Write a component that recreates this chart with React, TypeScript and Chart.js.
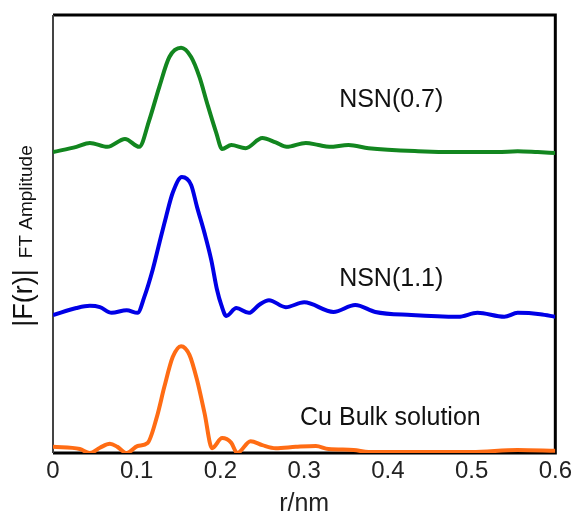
import React, { useEffect, useRef } from "react";
import { Chart, registerables } from "chart.js";

Chart.register(...registerables);

// x axis ticks
const xTickValues = [0, 0.1, 0.2, 0.3, 0.4, 0.5, 0.6];
const xTickLabels = ["0", "0.1", "0.2", "0.3", "0.4", "0.5", "0.6"];

// Series (r in nm, amplitude in stacked arbitrary units)
const nsn07R = [0, 0.028, 0.044, 0.065, 0.086, 0.103, 0.115, 0.127, 0.139, 0.153, 0.165, 0.175, 0.184, 0.195, 0.202, 0.213, 0.230, 0.250, 0.266, 0.279, 0.302, 0.317, 0.330, 0.353, 0.377, 0.436, 0.484, 0.531, 0.555, 0.579, 0.6];
const nsn07Y = [68.7, 69.9, 70.8, 69.9, 71.7, 69.9, 76.0, 83.6, 90.4, 92.5, 90.4, 85.8, 79.9, 73.1, 69.4, 70.3, 69.6, 71.9, 70.9, 69.9, 70.8, 70.3, 69.9, 70.3, 69.6, 68.9, 68.7, 68.7, 68.9, 68.7, 68.5];

const nsn11R = [0, 0.028, 0.044, 0.056, 0.070, 0.088, 0.101, 0.109, 0.119, 0.127, 0.135, 0.143, 0.154, 0.165, 0.172, 0.181, 0.189, 0.196, 0.201, 0.207, 0.219, 0.234, 0.246, 0.258, 0.278, 0.300, 0.335, 0.361, 0.385, 0.428, 0.484, 0.507, 0.539, 0.555, 0.582, 0.6];
const nsn11Y = [31.5, 33.1, 33.6, 33.3, 32.0, 32.6, 32.0, 35.6, 41.8, 47.9, 53.9, 59.4, 63.0, 61.2, 56.2, 50.2, 44.1, 37.2, 33.8, 31.3, 33.1, 32.0, 33.8, 34.9, 33.3, 34.4, 32.2, 33.8, 32.2, 31.5, 31.1, 32.0, 31.1, 32.0, 31.7, 31.1];

const cuBulkR = [0, 0.032, 0.044, 0.056, 0.068, 0.077, 0.088, 0.101, 0.113, 0.124, 0.133, 0.143, 0.153, 0.163, 0.172, 0.181, 0.190, 0.202, 0.213, 0.220, 0.236, 0.250, 0.266, 0.290, 0.314, 0.329, 0.359, 0.377, 0.430, 0.500, 0.555, 0.6];
const cuBulkY = [1.4, 0.9, 0, 1.2, 2.1, 1.4, 0, 1.6, 2.3, 8.2, 15.1, 21.9, 24.4, 22.4, 16.7, 9.1, 1.1, 3.4, 2.3, 0, 2.7, 1.8, 1.1, 1.4, 1.6, 0.9, 0.7, 0.2, 0.2, 0.2, 0.7, 0.5];

const seriesNames = ["NSN(0.7)", "NSN(1.1)", "Cu Bulk solution"];
const seriesColors = ["#12861f", "#0000e6", "#ff6c14"];
// curve label anchors (data coordinates)
const labelR = [0.404, 0.404, 0.403];
const labelY = [80.6, 39.7, 8.0];

const yTitleBig = "|F(r)|";
const yTitleSmall = "FT Amplitude";
const xTitle = "r/nm";

const FONT = '"Liberation Sans", Arial, sans-serif';

function toPoints(xs: number[], ys: number[]) {
  return xs.map((x, i) => ({ x, y: ys[i] }));
}

const framePlugin = {
  id: "frame",
  beforeDatasetsDraw(chart: any) {
    const { ctx, chartArea } = chart;
    const { left, right, top, bottom } = chartArea;
    ctx.save();
    ctx.strokeStyle = "#000";
    ctx.lineWidth = 3;
    ctx.beginPath();
    ctx.moveTo(left, top);
    ctx.lineTo(right, top);
    ctx.lineTo(right, bottom);
    ctx.lineTo(left, bottom);
    ctx.stroke();
    ctx.strokeStyle = "#444";
    ctx.lineWidth = 2;
    ctx.beginPath();
    ctx.moveTo(left, top);
    ctx.lineTo(left, bottom);
    ctx.stroke();
    ctx.restore();
  },
};

const labelsPlugin = {
  id: "curveLabels",
  afterDatasetsDraw(chart: any) {
    const { ctx, scales } = chart;
    ctx.save();
    ctx.font = `25px ${FONT}`;
    ctx.fillStyle = "#111";
    ctx.textAlign = "center";
    ctx.textBaseline = "middle";
    seriesNames.forEach((n, i) => {
      ctx.fillText(n, scales.x.getPixelForValue(labelR[i]), scales.y.getPixelForValue(labelY[i]));
    });
    ctx.restore();
  },
};

const yTitlePlugin = {
  id: "yTitle",
  afterDraw(chart: any) {
    const { ctx, chartArea } = chart;
    ctx.save();
    ctx.translate(32, (chartArea.top + chartArea.bottom) / 2 + 2);
    ctx.rotate(-Math.PI / 2);
    ctx.fillStyle = "#111";
    ctx.textBaseline = "alphabetic";
    ctx.textAlign = "left";
    const bigFont = `27px ${FONT}`;
    const smallFont = `19px ${FONT}`;
    ctx.font = bigFont;
    const w1 = ctx.measureText(yTitleBig).width;
    ctx.font = smallFont;
    const w2 = ctx.measureText(yTitleSmall).width;
    const gap = 11;
    const start = -(w1 + gap + w2) / 2;
    ctx.font = bigFont;
    ctx.fillText(yTitleBig, start, 0);
    ctx.font = smallFont;
    ctx.fillText(yTitleSmall, start + w1 + gap, 0);
    ctx.restore();
  },
};

export default function App() {
  const ref = useRef<HTMLCanvasElement | null>(null);

  useEffect(() => {
    if (!ref.current) return;
    const allR = [nsn07R, nsn11R, cuBulkR];
    const allY = [nsn07Y, nsn11Y, cuBulkY];
    const chart = new Chart(ref.current, {
      type: "line",
      data: {
        datasets: seriesNames.map((name, i) => ({
          label: name,
          data: toPoints(allR[i], allY[i]),
          borderColor: seriesColors[i],
          borderWidth: 4,
          pointRadius: 0,
          fill: false,
          cubicInterpolationMode: "monotone" as const,
        })),
      },
      options: {
        animation: false,
        responsive: true,
        maintainAspectRatio: false,
        layout: { padding: { left: 53, right: 18, top: 15, bottom: 0 } },
        plugins: {
          legend: { display: false },
          tooltip: { enabled: false },
        },
        scales: {
          x: {
            type: "linear",
            min: 0,
            max: 0.6,
            grid: { display: false, drawTicks: false },
            border: { display: false },
            afterBuildTicks: (scale: any) => {
              scale.ticks = xTickValues.map((v) => ({ value: v }));
            },
            afterFit: (scale: any) => {
              scale.height = 59;
            },
            ticks: {
              autoSkip: false,
              maxRotation: 0,
              padding: 4,
              color: "#222",
              font: { family: FONT, size: 24 },
              callback: (_v: any, index: number) => xTickLabels[index],
            },
            title: {
              display: true,
              text: xTitle,
              color: "#222",
              font: { family: FONT, size: 25, lineHeight: 0.6 },
              padding: 0,
            },
          },
          y: {
            type: "linear",
            min: 0,
            max: 100,
            display: false,
          },
        },
      },
      plugins: [framePlugin, labelsPlugin, yTitlePlugin],
    });
    return () => chart.destroy();
  }, []);

  return (
    <div style={{ position: "absolute", left: 0, top: 0, width: 576, height: 512, background: "#fff" }}>
      <canvas ref={ref} />
    </div>
  );
}
